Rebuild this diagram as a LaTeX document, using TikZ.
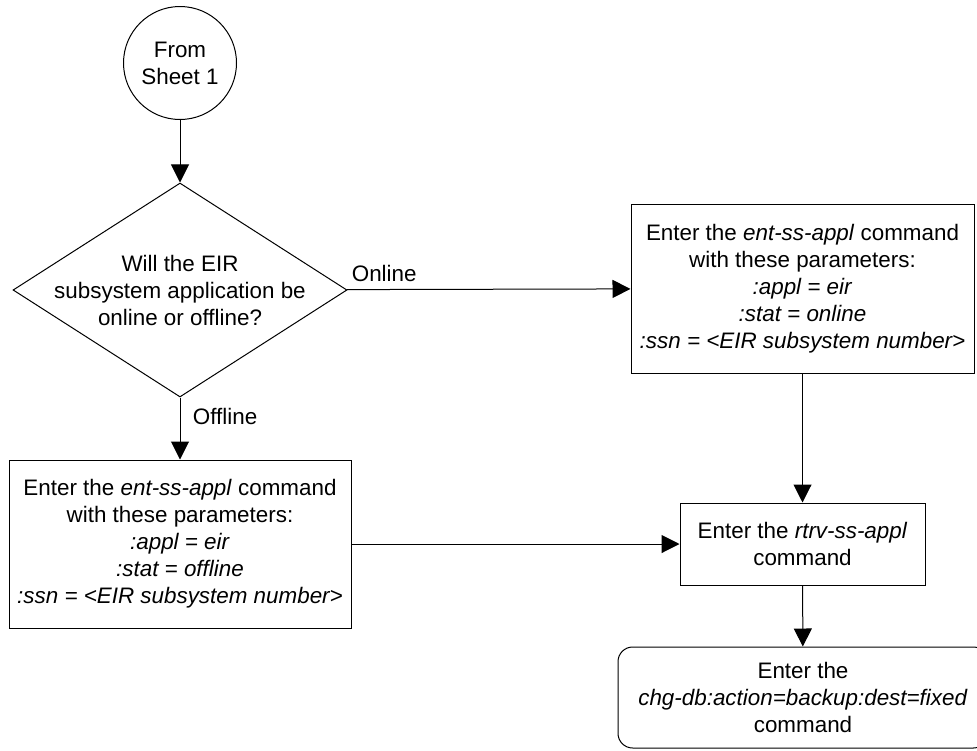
\documentclass[tikz,border=0pt]{standalone}
\usepackage{fontspec}
\setmainfont{Liberation Sans}
\usetikzlibrary{arrows.meta,shapes.geometric}
\tikzset{
  box/.style={draw, rectangle, align=center, inner sep=0pt},
  flow/.style={-{Triangle[length=13.5pt,width=13.5pt]}}
}
\begin{document}
\begin{tikzpicture}[x=0.75pt, y=-0.75pt, line width=0.75pt,
    font=\fontsize{16.8}{20.25}\selectfont]
			\useasboundingbox (0,0) rectangle (977,750);
			\node[draw,circle,minimum size=84.75pt,inner sep=0pt,align=center] (v0) at (180,63) {From\\Sheet 1};
			\node[draw,diamond,minimum width=250.5pt,minimum height=160.5pt,inner sep=0pt] (v1) at (180,290) {};
			\node[align=center] (v1t) at (v1) {Will the EIR\\subsystem application be\\online or offline?};
			\node[box,minimum width=257.25pt,minimum height=126.75pt] (v2) at (802.5,288.5)
			    {Enter the \textit{ent-ss-appl} command\\with these parameters:\\\textit{:appl = eir}\\\textit{:stat = online}\\\textit{:ssn = <EIR subsystem number>}};
			\node[box,minimum width=256.5pt,minimum height=126pt] (v4) at (180,544)
			    {Enter the \textit{ent-ss-appl} command\\with these parameters:\\\textit{:appl = eir}\\\textit{:stat = offline}\\\textit{:ssn = <EIR subsystem number>}};
			\node[box,minimum width=183.75pt,minimum height=61.5pt] (v5) at (802.5,544)
			    {Enter the \textit{rtrv-ss-appl}\\command};
			\node[box,rounded corners=11pt,minimum width=277.5pt,minimum height=75.75pt] (v6) at (803,697.5)
			    {Enter the\\\textit{chg-db:action=backup:dest=fixed}\\command};
			
			\foreach \u\v in {v0/v1, v2/v5, v4/v5, v5/v6}
			{	\draw[flow] (\u) -- (\v);
			}
			\draw[flow] (v1) -- (v2) node [pos=0, above right, yshift=2pt] {Online};
			\draw[flow] (v1) -- (v4) node [pos=0.3, right, xshift=6pt] {Offline};
		\end{tikzpicture}
\end{document}
